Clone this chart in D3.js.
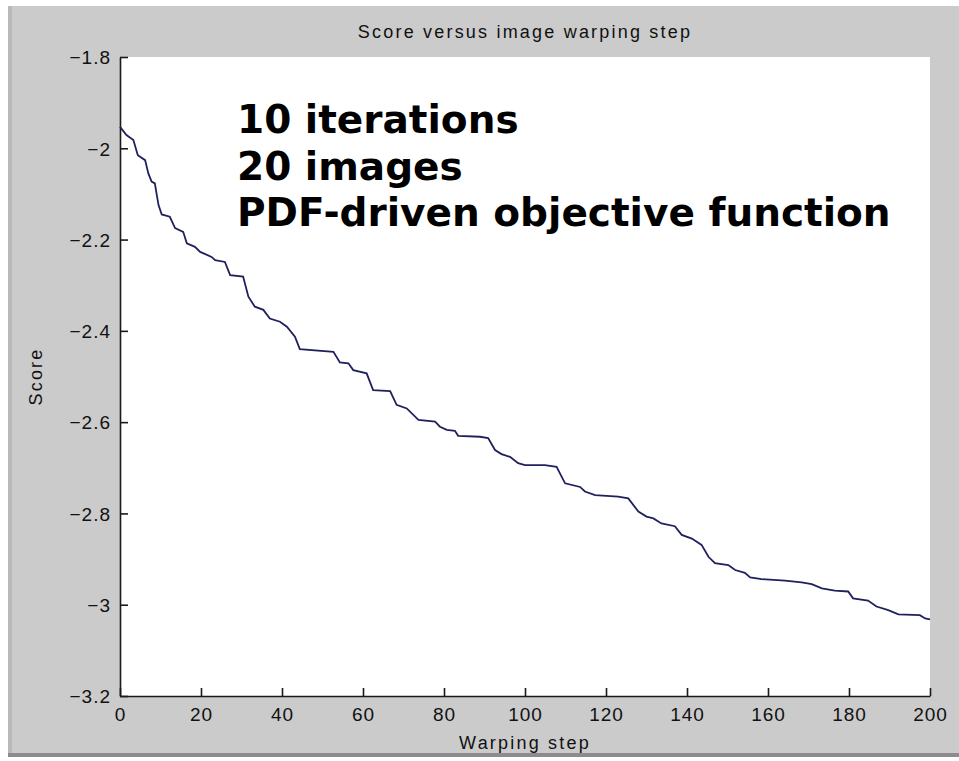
<!DOCTYPE html>
<html>
<head>
<meta charset="utf-8">
<script src="https://cdn.jsdelivr.net/npm/d3@7"></script>
<style>
  html, body { margin: 0; padding: 0; background: #fff; }
  svg { display: block; }
  .tick-label { font-family: "Liberation Sans", Arial, sans-serif; font-size: 19px; letter-spacing: 1px; fill: #111; }
  .label { font-family: "Liberation Sans", Arial, sans-serif; font-size: 18px; letter-spacing: 2.2px; fill: #111; }
</style>
</head>
<body>
<svg id="chart" width="959" height="761"></svg>
<script>
// Datos
var steps = [0, 1.6, 3.3, 4.4, 6.2, 7.0, 7.8, 8.6, 9.5, 10.3, 12.3, 13.6, 15.6, 16.5, 18.5, 19.8, 22.6, 23.5, 25.9, 27.2,
  30.4, 31.7, 33.3, 35.4, 37.0, 39.5, 41.2, 43.2, 44.4, 52.7, 54.3, 56.4, 57.6, 60.9, 62.5, 66.7, 68.3, 70.8, 73.7, 77.8,
  79.0, 80.7, 82.7, 83.5, 88.9, 90.9, 92.6, 94.2, 96.3, 98.3, 100.0, 104.9, 107.8, 109.9, 113.6, 114.8, 117.3, 123.0, 125.5, 128.0,
  130.0, 131.7, 133.7, 137.0, 138.7, 141.2, 143.6, 145.3, 146.9, 150.2, 151.9, 154.3, 155.6, 158.4, 164.2, 168.3, 170.8, 173.3, 176.5, 179.8,
  181.0, 184.7, 186.8, 189.7, 192.2, 197.5, 198.8, 200];

var scores = [-1.953, -1.971, -1.982, -2.015, -2.026, -2.055, -2.073, -2.077, -2.124, -2.145, -2.150, -2.175, -2.183, -2.208, -2.216, -2.227, -2.238, -2.245, -2.249, -2.278,
  -2.281, -2.325, -2.347, -2.354, -2.373, -2.380, -2.391, -2.413, -2.440, -2.446, -2.469, -2.471, -2.486, -2.493, -2.530, -2.532, -2.562, -2.570, -2.595, -2.599,
  -2.610, -2.617, -2.619, -2.630, -2.632, -2.635, -2.661, -2.670, -2.676, -2.690, -2.694, -2.694, -2.698, -2.734, -2.742, -2.752, -2.760, -2.763, -2.767, -2.796,
  -2.807, -2.811, -2.822, -2.828, -2.847, -2.855, -2.869, -2.895, -2.909, -2.913, -2.924, -2.930, -2.940, -2.944, -2.947, -2.951, -2.955, -2.964, -2.969, -2.971,
  -2.986, -2.991, -3.004, -3.012, -3.021, -3.023, -3.030, -3.032];

var xTicks = [0, 20, 40, 60, 80, 100, 120, 140, 160, 180, 200];
var yTicks = [-1.8, -2, -2.2, -2.4, -2.6, -2.8, -3, -3.2];
var yTickLabels = ["\u22121.8", "\u22122", "\u22122.2", "\u22122.4", "\u22122.6", "\u22122.8", "\u22123", "\u22123.2"];

var title = "Score versus image warping step";
var xTitle = "Warping step";
var yTitle = "Score";
var notes = ["10 iterations", "20 images", "PDF-driven objective function"];

// Medidas
var margin = { top: 57, right: 29, bottom: 65, left: 120 },
  W = 959, H = 761,
  width = W - margin.left - margin.right,
  height = H - margin.top - margin.bottom;

var svg = d3.select("#chart");

// Fondo de la ventana
svg.append("rect").attr("x", 0).attr("y", 0).attr("width", W).attr("height", H).attr("fill", "#ffffff");
svg.append("rect").attr("x", 8).attr("y", 6).attr("width", W - 8).attr("height", 751).attr("fill", "#cbcbcb");
svg.append("rect").attr("x", 8).attr("y", 6).attr("width", 4).attr("height", 751).attr("fill", "#b9b9b9");
svg.append("rect").attr("x", 8).attr("y", 753).attr("width", W - 8).attr("height", 4).attr("fill", "#8c8c8c");

var g = svg.append("g")
  .attr("transform", "translate(" + margin.left + "," + margin.top + ")");

// Escalas
var x = d3.scaleLinear().domain([0, 200]).range([0, width]);
var y = d3.scaleLinear().domain([-3.2, -1.8]).range([height, 0]);

// Area del grafico
g.append("rect").attr("width", width).attr("height", height).attr("fill", "#ffffff");

// Ejes
var xAxis = d3.axisBottom(x).tickValues(xTicks).tickSizeInner(-8).tickSizeOuter(0).tickPadding(12)
  .tickFormat(function (d) { return d; });
var yAxis = d3.axisLeft(y).tickValues(yTicks).tickSizeInner(-8).tickSizeOuter(0).tickPadding(9)
  .tickFormat(function (d, i) { return yTickLabels[i]; });

var gx = g.append("g").attr("transform", "translate(0," + height + ")").call(xAxis);
var gy = g.append("g").call(yAxis);

[gx, gy].forEach(function (ax) {
  ax.select(".domain").attr("stroke", "#1a1a1a").attr("stroke-width", 1.6);
  ax.selectAll(".tick line").attr("stroke", "#1a1a1a").attr("stroke-width", 1.6);
  ax.selectAll(".tick text").attr("class", "tick-label").attr("font-family", null).attr("font-size", null);
});
gy.selectAll(".tick text").attr("dy", "0.36em");

// Linea
var line = d3.line()
  .x(function (d) { return x(d[0]); })
  .y(function (d) { return y(d[1]); });

g.append("path")
  .datum(d3.zip(steps, scores))
  .attr("fill", "none")
  .attr("stroke", "#20205e")
  .attr("stroke-width", 1.8)
  .attr("stroke-linejoin", "miter")
  .attr("d", line);

// Textos
svg.append("text")
  .attr("class", "label")
  .attr("x", margin.left + width / 2).attr("y", 38)
  .attr("text-anchor", "middle")
  .text(title);

svg.append("text")
  .attr("class", "label")
  .attr("x", margin.left + width / 2).attr("y", 749)
  .attr("text-anchor", "middle")
  .text(xTitle);

svg.append("text")
  .attr("class", "label")
  .attr("transform", "translate(42," + (margin.top + height / 2) + ") rotate(-90)")
  .attr("text-anchor", "middle")
  .text(yTitle);

// Anotacion
notes.forEach(function (t, i) {
  svg.append("text")
    .attr("x", 237).attr("y", 133 + i * 46.5)
    .attr("font-family", "'DejaVu Sans', Verdana, sans-serif")
    .attr("font-weight", "bold")
    .attr("font-size", 39)
    .attr("fill", "#000")
    .text(t);
});
</script>
</body>
</html>
